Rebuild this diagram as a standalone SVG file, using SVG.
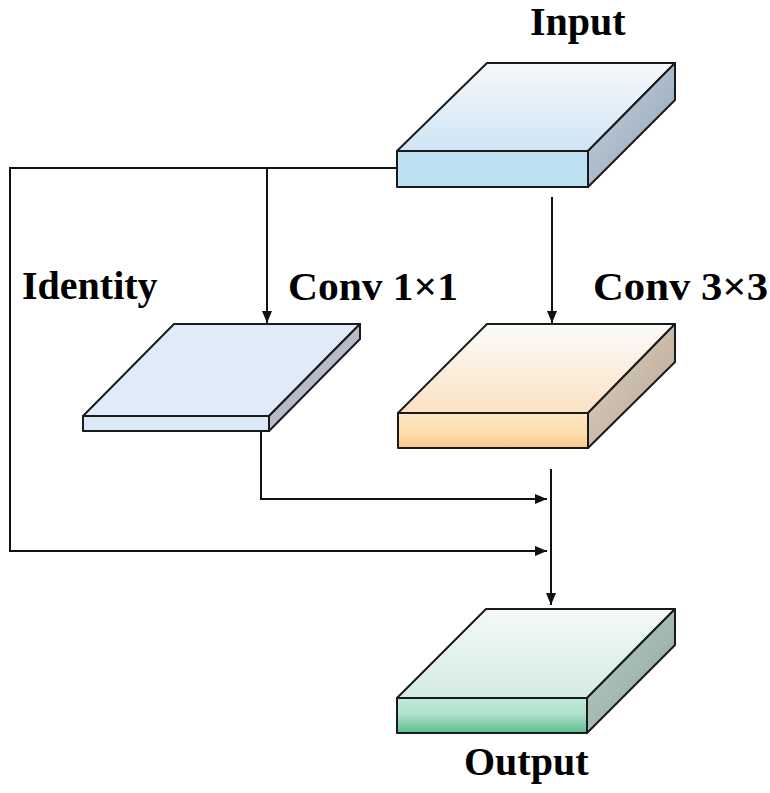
<svg xmlns="http://www.w3.org/2000/svg" width="770" height="793" viewBox="0 0 770 793">
<style>
.lbl{font-family:"Liberation Serif","Times New Roman",serif;font-weight:bold;font-size:40px;fill:#000}
.edge{stroke:#1a1a1a;stroke-width:2;stroke-linejoin:round}
.conn{stroke:#111;stroke-width:2;fill:none}
</style>
<defs>
<marker id="ah" viewBox="0 0 12 10" refX="12" refY="5" markerWidth="12" markerHeight="10" markerUnits="userSpaceOnUse" orient="auto">
<path d="M0,0 L12,5 L0,10 z" fill="#111"/>
</marker>
<linearGradient id="inTop" x1="0" y1="0" x2="0" y2="1"><stop offset="0" stop-color="#f6f9fc"/><stop offset="1" stop-color="#cfe4f4"/></linearGradient>
<linearGradient id="inSide" x1="0" y1="0" x2="1" y2="1"><stop offset="0" stop-color="#c9d4de"/><stop offset="1" stop-color="#8ea3b6"/></linearGradient>
<linearGradient id="c3Top" x1="0" y1="0" x2="0" y2="1"><stop offset="0" stop-color="#fbfbfb"/><stop offset="1" stop-color="#fbe2c2"/></linearGradient>
<linearGradient id="c3Front" x1="0" y1="0" x2="0" y2="1"><stop offset="0" stop-color="#fde8c6"/><stop offset="0.6" stop-color="#fddcab"/><stop offset="1" stop-color="#fbc88a"/></linearGradient>
<linearGradient id="c3Side" x1="0" y1="0" x2="1" y2="1"><stop offset="0" stop-color="#dcd3c8"/><stop offset="1" stop-color="#b9a58d"/></linearGradient>
<linearGradient id="oTop" x1="0" y1="0" x2="0" y2="1"><stop offset="0" stop-color="#f4faf8"/><stop offset="1" stop-color="#d3ebe2"/></linearGradient>
<linearGradient id="oFront" x1="0" y1="0" x2="0" y2="1"><stop offset="0" stop-color="#c2eadb"/><stop offset="0.45" stop-color="#b0e2cc"/><stop offset="1" stop-color="#5dbe8c"/></linearGradient>
<linearGradient id="oSide" x1="0" y1="0" x2="1" y2="1"><stop offset="0" stop-color="#bccfc8"/><stop offset="1" stop-color="#8aa69b"/></linearGradient>
</defs>
<g id="connectors">
<path class="conn" d="M397,168 L10,168 L10,551 L547,551" marker-end="url(#ah)"/>
<path class="conn" d="M267,168 L267,323" marker-end="url(#ah)"/>
<path class="conn" d="M552,197 L552,323" marker-end="url(#ah)"/>
<path class="conn" d="M261,432 L261,499 L547,499" marker-end="url(#ah)"/>
<path class="conn" d="M551,469 L551,605" marker-end="url(#ah)"/>
</g>
<g id="input">
<polygon class="edge" points="487,63 675,63 588,151 397,151" fill="url(#inTop)"/>
<polygon class="edge" points="675,63 675,100 588,187 588,151" fill="url(#inSide)"/>
<rect class="edge" x="397" y="151" width="191" height="36" fill="#bde0f2"/>
<text class="lbl" x="530" y="35">Input</text>
</g>
<g id="conv1x1">
<polygon class="edge" points="174,324 360,324 269,416 83,416" fill="#e0eaf8"/>
<polygon class="edge" points="360,324 360,339 269,431 269,416" fill="#b5bcc8"/>
<rect class="edge" x="83" y="416" width="186" height="15" fill="#dde8f7"/>
<text class="lbl" x="288" y="300" textLength="170" lengthAdjust="spacingAndGlyphs">Conv 1×1</text>
</g>
<g id="identity">
<text class="lbl" x="22" y="299">Identity</text>
</g>
<g id="conv3x3">
<polygon class="edge" points="487,324 675,324 588,413 398,413" fill="url(#c3Top)"/>
<polygon class="edge" points="675,324 675,362 588,448 588,413" fill="url(#c3Side)"/>
<rect class="edge" x="398" y="413" width="190" height="35" fill="url(#c3Front)"/>
<text class="lbl" x="593" y="300" textLength="175" lengthAdjust="spacingAndGlyphs">Conv 3×3</text>
</g>
<g id="output">
<polygon class="edge" points="486,609 675,609 587,698 397,698" fill="url(#oTop)"/>
<polygon class="edge" points="675,609 675,645 587,733 587,698" fill="url(#oSide)"/>
<rect class="edge" x="397" y="698" width="190" height="35" fill="url(#oFront)"/>
<text class="lbl" x="464" y="775">Output</text>
</g>
</svg>
